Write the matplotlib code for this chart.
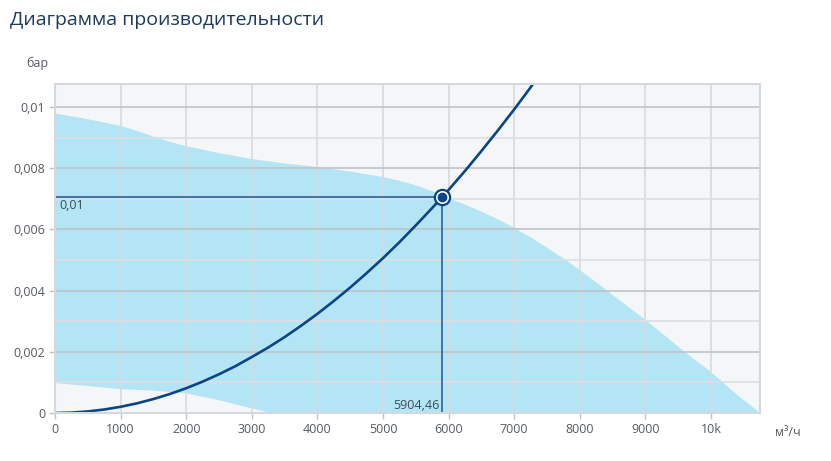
import numpy as np
import matplotlib
matplotlib.use("Agg")
import matplotlib.pyplot as plt

# ---- data ----
upper_x = [0, 500, 1000, 1250, 1500, 1750, 2000, 2500, 3000, 3500, 4000, 4500, 5000,
           5250, 5500, 5750, 6000, 6250, 6500, 6750, 7000, 7250, 7500, 7750, 8000,
           8500, 9000, 9375, 9600, 10000, 10400, 10747]
upper_y = [0.00979, 0.00960, 0.00938, 0.00922, 0.00903, 0.00886, 0.00872, 0.00849,
           0.00830, 0.00815, 0.00804, 0.00789, 0.00771, 0.00759, 0.00744, 0.00725,
           0.00701, 0.00681, 0.00658, 0.00633, 0.00605, 0.00574, 0.00540, 0.00505,
           0.00467, 0.00386, 0.00304, 0.00239, 0.00199, 0.00134, 0.00059, 0.0]
lower_x = [0, 500, 1000, 1500, 2000, 2500, 3000, 3300]
lower_y = [0.00098, 0.00088, 0.00078, 0.00073, 0.00064, 0.00042, 0.00015, 0.0]

curve_x = [0, 250, 500, 750, 1000, 1250, 1500, 1750, 2000, 2250, 2500, 2750, 3000,
           3250, 3500, 3750, 4000, 4250, 4500, 4750, 5000, 5250, 5500, 5750,
           5904.46, 6000, 6250, 6500, 6750, 7000, 7250, 7300]
curve_y = [0.0, 0.000013, 0.000051, 0.000114, 0.000203, 0.000316, 0.000456, 0.00062,
           0.00081, 0.001025, 0.001266, 0.00153, 0.00183, 0.00214, 0.00248, 0.00285,
           0.00324, 0.00366, 0.00410, 0.00457, 0.00506, 0.00558, 0.00613, 0.00670,
           0.00706, 0.00729, 0.00791, 0.00856, 0.00923, 0.00992, 0.01064, 0.01079]

op_x = 5904.46
op_y = 0.00706
op_x_label = "5904,46"
op_y_label = "0,01"

xticks = [0, 1000, 2000, 3000, 4000, 5000, 6000, 7000, 8000, 9000, 10000]
xtick_labels = ["0", "1000", "2000", "3000", "4000", "5000", "6000", "7000", "8000", "9000", "10k"]
yticks = [0, 0.002, 0.004, 0.006, 0.008, 0.01]
ytick_labels = ["0", "0,002", "0,004", "0,006", "0,008", "0,01"]
yminor = [0.001, 0.003, 0.005, 0.007, 0.009]

title = "Диаграмма производительности"
y_unit = "бар"
x_unit = "м³/ч"

# ---- style ----
plt.rcParams['font.family'] = ['Open Sans', 'DejaVu Sans']
txt = "#555a60"
fig = plt.figure(figsize=(8.31, 4.61), dpi=100)
ax = fig.add_axes([55/831, (461-413)/461, (760-55)/831, (413-84)/461])
ax.set_facecolor("#f5f6f8")
ax.set_xlim(0, 10747)
ax.set_ylim(0, 0.01075)

ax.fill(list(upper_x) + list(lower_x[::-1]), list(upper_y) + list(lower_y[::-1]),
        color="#b3e5f4", lw=0, zorder=1)

# grid
for v in xticks[1:]:
    ax.axvline(v, color="#d9dadd", lw=1.2, zorder=2)
for v in yminor:
    ax.axhline(v, color="#dcdee2", lw=1.2, zorder=2)
for v in yticks[1:]:
    ax.axhline(v, color="#bfc3ca", lw=1.2, zorder=2)

# operating point lines
ax.plot([0, op_x], [op_y, op_y], color="#2e5f97", lw=1.2, zorder=3)
ax.plot([op_x, op_x], [0, op_y], color="#2e5f97", lw=1.2, zorder=3)

ax.plot(curve_x, curve_y, color="#0b4585", lw=1.9, zorder=4,
        solid_capstyle="round", solid_joinstyle="round")
ax.plot([op_x], [op_y], marker="o", ms=11, mfc="white", mec="#0b4585", mew=1.6, zorder=5)
ax.plot([op_x], [op_y], marker="o", ms=6, mfc="#0b4585", mec="#0b4585", zorder=6)

ax.text(60, op_y - 0.00007, op_y_label, ha="left", va="top", fontsize=9, color="#3d4a5a", zorder=6)
ax.text(op_x - 40, 0.00003, op_x_label, ha="right", va="bottom", fontsize=9, color="#3d4a5a", zorder=6)

for s in ax.spines.values():
    s.set_color("#d5d8dc")
    s.set_linewidth(1.5)
    s.set_zorder(7)

ax.set_xticks(xticks)
ax.set_xticklabels(xtick_labels)
ax.set_yticks(yticks)
ax.set_yticklabels(ytick_labels)
ax.tick_params(axis="both", colors="#bfc3ca", labelcolor=txt, labelsize=9, length=4, width=1, pad=3)

fig.text(10/831, 1 - 20/461, title, ha="left", va="center", fontsize=14, color="#1b3a5c")
fig.text(37/831, 1 - 63/461, y_unit, ha="center", va="center", fontsize=9, color=txt)
fig.text(788/831, 1 - 432/461, x_unit, ha="center", va="center", fontsize=9, color=txt)

fig.savefig("out.png", dpi=100)
